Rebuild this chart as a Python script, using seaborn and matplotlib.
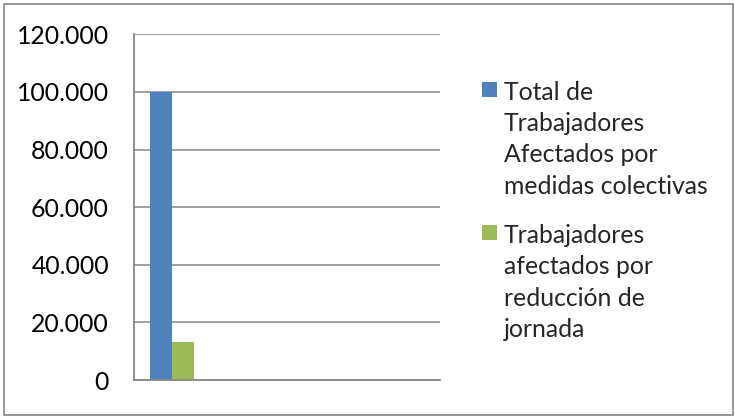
import matplotlib
matplotlib.use("Agg")
import matplotlib.pyplot as plt
from matplotlib.patches import Rectangle
from matplotlib.legend_handler import HandlerPatch
from matplotlib.ticker import FuncFormatter, FixedLocator, MultipleLocator
import numpy as np
import pandas as pd
import seaborn as sns

# Data
periods = [1, 2, 3, 4]
total_afectados = [100000, 0, 0, 0]
reduccion_jornada = [13300, 0, 0, 0]
series_names = [
    "Total de\nTrabajadores\nAfectados por\nmedidas colectivas",
    "Trabajadores\nafectados por\nreducción de\njornada",
]
series_colors = ["#4F81BD", "#9BBB59"]

df = pd.DataFrame({
    "periodo": periods * 2,
    "valor": total_afectados + reduccion_jornada,
    "serie": [series_names[0]] * len(periods) + [series_names[1]] * len(periods),
})

sns.set_style("white")
plt.rcParams["font.family"] = ["Lato", "DejaVu Sans"]
FS = 17.8
LINESPACING = 1.43

W, H = 735, 417
fig = plt.figure(figsize=(W / 100, H / 100), dpi=100)
ax = fig.add_axes([134 / W, (H - 380) / H, 306 / W, (380 - 34.3) / H])

sns.barplot(data=df, x="periodo", y="valor", hue="serie",
            palette=series_colors, width=0.575, gap=0, linewidth=0,
            saturation=1, ax=ax)

grid_col = "#868686"
ax.set_ylim(0, 120000)
ax.set_xlim(-0.5, len(periods) - 0.5)
ax.yaxis.set_major_locator(MultipleLocator(20000))
ax.yaxis.set_major_formatter(
    FuncFormatter(lambda v, p: f"{int(v):,}".replace(",", ".")))
ax.grid(axis="y", color=grid_col, linewidth=1.1)
ax.set_axisbelow(True)

# category boundaries as tick marks, no labels
ax.xaxis.set_major_locator(FixedLocator(np.arange(-0.5, len(periods), 1.0)))
ax.set_xticklabels([""] * (len(periods) + 1))
ax.tick_params(axis="x", length=6.5, width=1.1, color=grid_col, direction="out")
ax.tick_params(axis="y", length=6, width=1.1, color=grid_col, direction="out",
               labelsize=FS, pad=12, labelcolor="black")
ax.set_xlabel("")
ax.set_ylabel("")

for side in ["top", "right"]:
    ax.spines[side].set_visible(False)
for side in ["left", "bottom"]:
    ax.spines[side].set_color(grid_col)
    ax.spines[side].set_linewidth(1.3)


def top_square(legend, orig_handle, xdescent, ydescent, width, height, fontsize):
    # square marker sitting on the first line of a four-line label;
    # the legend centres multi-line labels on the handle origin
    sq = 15 * 72 / 100
    pitch = LINESPACING * 0.85 * fontsize
    return Rectangle((-xdescent, 1.5 * pitch + 0.28 * fontsize), sq, sq)


leg = ax.legend(loc="upper left", bbox_to_anchor=(482 / W, 1 - 81 / H),
                bbox_transform=fig.transFigure, frameon=False, fontsize=FS,
                handlelength=0.61, handleheight=0.7, handletextpad=0.28,
                labelspacing=1.08, borderpad=0, borderaxespad=0,
                handler_map={Rectangle: HandlerPatch(patch_func=top_square)})
for t in leg.get_texts():
    t.set_linespacing(LINESPACING)

# outer chart frame
fig.patches.append(Rectangle((4 / W, 1 - 415 / H), 729 / W, 411 / H,
                             transform=fig.transFigure, fill=False,
                             edgecolor=grid_col, linewidth=1.2))

fig.savefig("out.png", dpi=100)
